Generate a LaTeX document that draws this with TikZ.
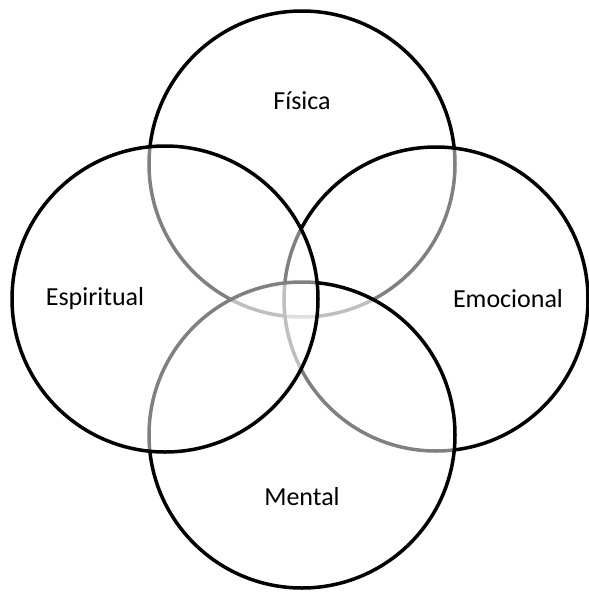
\documentclass[tikz,border=0pt]{standalone}
\usepackage{fontspec}
\setmainfont{Carlito}

\begin{document}
\begin{tikzpicture}[x=1pt, y=-1pt,
  area/.style={circle, draw=black, line width=3.5pt, fill=white, fill opacity=0.5,
    minimum size=306pt, inner sep=0pt},
  tag/.style={font=\fontsize{26}{31}\selectfont, text=black}]
  \useasboundingbox (0,0) rectangle (589,592);
  % Define circles (drawing order gives the grey overlaps)
  \node[area] (fisica) at (302,164) {};
  \node[area, minimum size=304pt] (emocional) at (436,299) {};
  \node[area] (mental) at (302,435) {};
  \node[area] (espiritual) at (165,299) {};

  % Labels
  \node[tag] (t_fisica) at (302,101) {Física};
  \node[tag] (t_espiritual) at (95,299) {Espiritual};
  \node[tag] (t_emocional) at (508,299) {Emocional};
  \node[tag] (t_mental) at (302,497) {Mental};
\end{tikzpicture}
\end{document}
